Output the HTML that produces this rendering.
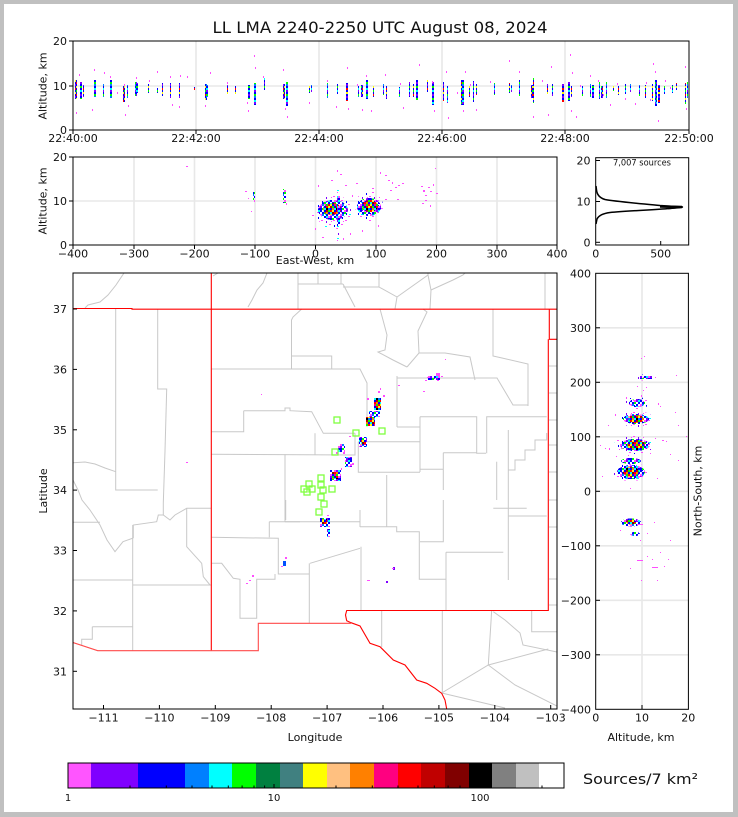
<!DOCTYPE html>
<html><head><meta charset="utf-8"><style>
html,body{margin:0;padding:0;background:#c0c0c0;}
svg{display:block;}
text{font-family:"DejaVu Sans","Liberation Sans",sans-serif;fill:#111;}
.t{font-size:11px;}
.g{stroke:#e8e8e8;stroke-width:1.6;fill:none;}
.k{stroke:#000;stroke-width:1;fill:none;}
.c{stroke:#c8c8c8;stroke-width:1;fill:none;}
.r{stroke:#ff0000;stroke-width:1.1;fill:none;}
.m{fill:#ff4dff;}
.sq{fill:none;stroke:#80ff40;stroke-width:1.3;}
</style></head><body>
<svg width="738" height="817" viewBox="0 0 738 817" xmlns="http://www.w3.org/2000/svg">
<defs>
<pattern id="pT" width="8" height="12" patternUnits="userSpaceOnUse">
<rect width="8" height="12" fill="#0000ff"/>
<rect x="2" y="0" width="2" height="2" fill="#8000ff"/><rect x="6" y="0" width="2" height="2" fill="#0080ff"/>
<rect x="0" y="2" width="2" height="2" fill="#00ff00"/><rect x="4" y="2" width="2" height="2" fill="#ffff00"/>
<rect x="2" y="4" width="2" height="2" fill="#ff0000"/><rect x="6" y="4" width="2" height="2" fill="#00ffff"/>
<rect x="0" y="6" width="2" height="2" fill="#00ffff"/><rect x="4" y="6" width="2" height="2" fill="#00ff00"/><rect x="6" y="6" width="2" height="2" fill="#8000ff"/>
<rect x="2" y="8" width="2" height="2" fill="#ffff00"/>
<rect x="0" y="10" width="2" height="2" fill="#8000ff"/><rect x="4" y="10" width="2" height="2" fill="#ff0000"/><rect x="6" y="10" width="2" height="2" fill="#00ff00"/>
</pattern>
<pattern id="pA" width="10" height="10" patternUnits="userSpaceOnUse">
<rect x="0" y="0" width="2" height="2" fill="#0000ff"/><rect x="4" y="0" width="2" height="2" fill="#ff4dff"/><rect x="6" y="0" width="2" height="2" fill="#8000ff"/><rect x="8" y="0" width="2" height="2" fill="#00ffff"/>
<rect x="2" y="2" width="2" height="2" fill="#0000ff"/><rect x="4" y="2" width="2" height="2" fill="#00ff00"/><rect x="8" y="2" width="2" height="2" fill="#0000ff"/>
<rect x="0" y="4" width="2" height="2" fill="#ff4dff"/><rect x="2" y="4" width="2" height="2" fill="#0080ff"/><rect x="6" y="4" width="2" height="2" fill="#0000ff"/>
<rect x="0" y="6" width="2" height="2" fill="#8000ff"/><rect x="4" y="6" width="2" height="2" fill="#0000ff"/><rect x="6" y="6" width="2" height="2" fill="#00ffff"/><rect x="8" y="6" width="2" height="2" fill="#ff4dff"/>
<rect x="0" y="8" width="2" height="2" fill="#0000ff"/><rect x="2" y="8" width="2" height="2" fill="#00ff00"/><rect x="6" y="8" width="2" height="2" fill="#8000ff"/><rect x="8" y="8" width="2" height="2" fill="#0000ff"/>
</pattern>
<pattern id="pS" width="12" height="12" patternUnits="userSpaceOnUse">
<rect x="0" y="0" width="2" height="1" fill="#ff4dff"/><rect x="6" y="1" width="1" height="2" fill="#0000ff"/>
<rect x="9" y="4" width="2" height="1" fill="#ff4dff"/><rect x="2" y="5" width="1" height="2" fill="#8000ff"/>
<rect x="5" y="8" width="2" height="1" fill="#ff4dff"/><rect x="10" y="9" width="1" height="2" fill="#0000ff"/>
<rect x="1" y="10" width="2" height="1" fill="#00ffff"/><rect x="7" y="5" width="1" height="1" fill="#ff4dff"/>
</pattern>
<pattern id="pB" width="10" height="10" patternUnits="userSpaceOnUse">
<rect x="0" y="0" width="2" height="2" fill="#ff0000"/><rect x="2" y="0" width="2" height="2" fill="#ffff00"/><rect x="4" y="0" width="2" height="2" fill="#0000ff"/><rect x="6" y="0" width="2" height="2" fill="#c00000"/><rect x="8" y="0" width="2" height="2" fill="#00ff00"/>
<rect x="0" y="2" width="2" height="2" fill="#00ffff"/><rect x="2" y="2" width="2" height="2" fill="#800000"/><rect x="4" y="2" width="2" height="2" fill="#ff0000"/><rect x="6" y="2" width="2" height="2" fill="#ff8000"/><rect x="8" y="2" width="2" height="2" fill="#0000ff"/>
<rect x="0" y="4" width="2" height="2" fill="#ffff00"/><rect x="2" y="4" width="2" height="2" fill="#0000ff"/><rect x="4" y="4" width="2" height="2" fill="#ff0080"/><rect x="6" y="4" width="2" height="2" fill="#00ff00"/><rect x="8" y="4" width="2" height="2" fill="#ff0000"/>
<rect x="0" y="6" width="2" height="2" fill="#c00000"/><rect x="2" y="6" width="2" height="2" fill="#00ff00"/><rect x="4" y="6" width="2" height="2" fill="#0000ff"/><rect x="6" y="6" width="2" height="2" fill="#ff0000"/><rect x="8" y="6" width="2" height="2" fill="#ffff00"/>
<rect x="0" y="8" width="2" height="2" fill="#0000ff"/><rect x="2" y="8" width="2" height="2" fill="#ff8000"/><rect x="4" y="8" width="2" height="2" fill="#00ffff"/><rect x="6" y="8" width="2" height="2" fill="#000000"/><rect x="8" y="8" width="2" height="2" fill="#0080ff"/>
</pattern>
<clipPath id="cm"><rect x="73" y="273" width="484" height="436"/></clipPath>
</defs>

<rect x="4" y="4" width="729" height="808" fill="#ffffff"/>

<text x="380" y="33" text-anchor="middle" style="font-size:16px" textLength="335" lengthAdjust="spacingAndGlyphs">LL LMA 2240-2250 UTC August 08, 2024</text>

<!-- ============ TOP TIME PANEL ============ -->
<g>
<line class="g" x1="196" y1="41" x2="196" y2="130"/><line class="g" x1="319" y1="41" x2="319" y2="130"/>
<line class="g" x1="442" y1="41" x2="442" y2="130"/><line class="g" x1="565" y1="41" x2="565" y2="130"/>
<line class="g" x1="73" y1="86" x2="689" y2="86"/>
</g>
<g shape-rendering="crispEdges" fill="url(#pT)">
<rect x="75" y="80" width="2" height="19"/><rect x="80" y="82" width="2" height="17"/><rect x="83" y="85" width="1" height="12"/>
<rect x="94" y="80" width="2" height="17"/><rect x="103" y="84" width="1" height="13"/><rect x="110" y="80" width="2" height="18"/>
<rect x="123" y="86" width="2" height="16"/><rect x="127" y="85" width="1" height="13"/><rect x="135" y="82" width="2" height="14"/>
<rect x="137" y="83" width="1" height="10"/><rect x="148" y="84" width="1" height="9"/><rect x="157" y="88" width="1" height="5"/>
<rect x="162" y="83" width="1" height="13"/><rect x="170" y="83" width="1" height="15"/><rect x="179" y="83" width="1" height="15"/>
<rect x="194" y="87" width="1" height="3"/><rect x="205" y="84" width="2" height="16"/><rect x="207" y="85" width="1" height="12"/>
<rect x="227" y="85" width="1" height="9"/><rect x="235" y="86" width="1" height="8"/><rect x="248" y="85" width="2" height="14"/>
<rect x="254" y="83" width="2" height="22"/><rect x="264" y="78" width="1" height="12"/><rect x="283" y="84" width="2" height="15"/>
<rect x="286" y="82" width="2" height="24"/><rect x="309" y="86" width="1" height="7"/><rect x="311" y="85" width="1" height="7"/>
<rect x="327" y="83" width="1" height="15"/><rect x="337" y="84" width="1" height="10"/><rect x="346" y="83" width="2" height="18"/>
<rect x="358" y="86" width="1" height="11"/><rect x="361" y="85" width="2" height="12"/><rect x="366" y="80" width="2" height="19"/>
<rect x="373" y="86" width="1" height="11"/><rect x="383" y="84" width="1" height="11"/><rect x="386" y="86" width="1" height="13"/>
<rect x="399" y="87" width="1" height="10"/><rect x="409" y="82" width="1" height="15"/><rect x="413" y="84" width="1" height="13"/>
<rect x="416" y="80" width="2" height="20"/><rect x="427" y="80" width="1" height="12"/><rect x="432" y="82" width="2" height="23"/>
<rect x="443" y="82" width="1" height="19"/><rect x="447" y="86" width="1" height="17"/><rect x="461" y="80" width="3" height="25"/>
<rect x="469" y="86" width="1" height="11"/><rect x="473" y="81" width="1" height="21"/><rect x="476" y="84" width="1" height="11"/>
<rect x="494" y="83" width="1" height="12"/><rect x="509" y="83" width="1" height="10"/><rect x="511" y="85" width="1" height="7"/>
<rect x="519" y="80" width="1" height="16"/><rect x="531" y="85" width="2" height="13"/><rect x="533" y="78" width="1" height="25"/>
<rect x="547" y="84" width="1" height="10"/><rect x="552" y="84" width="1" height="12"/><rect x="562" y="84" width="2" height="18"/>
<rect x="568" y="82" width="2" height="19"/><rect x="571" y="86" width="1" height="11"/><rect x="582" y="86" width="1" height="10"/>
<rect x="590" y="84" width="1" height="13"/><rect x="592" y="85" width="2" height="13"/><rect x="599" y="82" width="1" height="17"/>
<rect x="601" y="86" width="2" height="12"/><rect x="606" y="82" width="1" height="16"/><rect x="613" y="86" width="1" height="5"/>
<rect x="618" y="86" width="1" height="9"/><rect x="625" y="84" width="1" height="10"/><rect x="630" y="84" width="1" height="8"/>
<rect x="639" y="85" width="1" height="11"/><rect x="645" y="85" width="1" height="13"/><rect x="652" y="84" width="1" height="17"/>
<rect x="655" y="80" width="2" height="26"/><rect x="658" y="85" width="2" height="18"/><rect x="664" y="86" width="1" height="8"/>
<rect x="672" y="85" width="1" height="8"/><rect x="676" y="83" width="1" height="7"/><rect x="685" y="83" width="1" height="21"/>
<rect x="687" y="82" width="1" height="16"/>
</g>
<g shape-rendering="crispEdges" class="m">
<rect x="79" y="74" width="1" height="2"/><rect x="76" y="112" width="1" height="2"/><rect x="92" y="109" width="1" height="2"/><rect x="94" y="69" width="1" height="2"/><rect x="104" y="72" width="1" height="2"/><rect x="110" y="76" width="1" height="2"/><rect x="117" y="92" width="1" height="2"/><rect x="124" y="84" width="1" height="2"/><rect x="125" y="114" width="1" height="2"/><rect x="128" y="105" width="1" height="2"/><rect x="136" y="77" width="1" height="2"/><rect x="149" y="80" width="1" height="2"/><rect x="157" y="71" width="1" height="2"/><rect x="170" y="76" width="1" height="2"/><rect x="172" y="104" width="1" height="2"/><rect x="180" y="75" width="1" height="2"/><rect x="179" y="106" width="1" height="2"/><rect x="187" y="76" width="1" height="2"/><rect x="205" y="105" width="1" height="2"/><rect x="210" y="72" width="1" height="2"/><rect x="227" y="82" width="1" height="2"/><rect x="247" y="102" width="1" height="2"/><rect x="248" y="110" width="1" height="2"/><rect x="254" y="55" width="1" height="2"/><rect x="255" y="67" width="1" height="2"/><rect x="263" y="76" width="1" height="2"/><rect x="283" y="69" width="1" height="2"/><rect x="285" y="108" width="1" height="2"/><rect x="287" y="116" width="1" height="2"/><rect x="309" y="102" width="1" height="2"/><rect x="327" y="80" width="1" height="2"/><rect x="336" y="106" width="1" height="2"/><rect x="347" y="67" width="1" height="2"/><rect x="348" y="108" width="1" height="2"/><rect x="357" y="84" width="1" height="2"/><rect x="362" y="109" width="1" height="2"/><rect x="366" y="75" width="1" height="2"/><rect x="371" y="110" width="1" height="2"/><rect x="385" y="74" width="1" height="2"/><rect x="400" y="83" width="1" height="2"/><rect x="403" y="107" width="1" height="2"/><rect x="419" y="64" width="1" height="2"/><rect x="432" y="81" width="1" height="2"/><rect x="434" y="110" width="1" height="2"/><rect x="446" y="71" width="1" height="2"/><rect x="448" y="117" width="1" height="2"/><rect x="457" y="92" width="1" height="2"/><rect x="465" y="71" width="1" height="2"/><rect x="463" y="110" width="1" height="2"/><rect x="470" y="84" width="1" height="2"/><rect x="476" y="109" width="1" height="2"/><rect x="490" y="81" width="1" height="2"/><rect x="509" y="60" width="1" height="2"/><rect x="519" y="71" width="1" height="2"/><rect x="533" y="116" width="1" height="2"/><rect x="542" y="80" width="1" height="2"/><rect x="548" y="114" width="1" height="2"/><rect x="551" y="66" width="1" height="2"/><rect x="570" y="54" width="1" height="2"/><rect x="572" y="72" width="1" height="2"/><rect x="571" y="110" width="1" height="2"/><rect x="576" y="116" width="1" height="2"/><rect x="580" y="85" width="1" height="2"/><rect x="590" y="75" width="1" height="2"/><rect x="598" y="80" width="1" height="2"/><rect x="603" y="94" width="1" height="2"/><rect x="610" y="104" width="1" height="2"/><rect x="617" y="83" width="1" height="2"/><rect x="625" y="98" width="1" height="2"/><rect x="635" y="103" width="1" height="2"/><rect x="646" y="82" width="1" height="2"/><rect x="650" y="99" width="1" height="2"/><rect x="653" y="63" width="1" height="2"/><rect x="655" y="71" width="1" height="2"/><rect x="658" y="120" width="1" height="2"/><rect x="665" y="80" width="1" height="2"/><rect x="670" y="87" width="1" height="2"/><rect x="685" y="66" width="1" height="2"/><rect x="686" y="108" width="1" height="2"/>
</g>
<rect x="73" y="41" width="616" height="89" class="k" stroke-width="1.3"/>
<g class="k">
<line x1="69" y1="41" x2="73" y2="41"/><line x1="69" y1="86" x2="73" y2="86"/><line x1="69" y1="130" x2="73" y2="130"/>
<line x1="73" y1="130" x2="73" y2="134"/><line x1="196" y1="130" x2="196" y2="134"/><line x1="319" y1="130" x2="319" y2="134"/>
<line x1="442" y1="130" x2="442" y2="134"/><line x1="565" y1="130" x2="565" y2="134"/><line x1="689" y1="130" x2="689" y2="134"/>
</g>
<g class="t">
<text x="67" y="45" text-anchor="end">20</text><text x="67" y="90" text-anchor="end">10</text><text x="67" y="134" text-anchor="end">0</text>
<text x="73" y="142" text-anchor="middle">22:40:00</text><text x="196" y="142" text-anchor="middle">22:42:00</text>
<text x="319" y="142" text-anchor="middle">22:44:00</text><text x="442" y="142" text-anchor="middle">22:46:00</text>
<text x="565" y="142" text-anchor="middle">22:48:00</text><text x="689" y="142" text-anchor="middle">22:50:00</text>
<text transform="translate(46.5,86) rotate(-90)" text-anchor="middle">Altitude, km</text>
</g>

<!-- ============ EAST-WEST PANEL ============ -->
<g>
<line class="g" x1="134" y1="157" x2="134" y2="245"/><line class="g" x1="194.5" y1="157" x2="194.5" y2="245"/>
<line class="g" x1="255" y1="157" x2="255" y2="245"/><line class="g" x1="315.5" y1="157" x2="315.5" y2="245"/>
<line class="g" x1="376" y1="157" x2="376" y2="245"/><line class="g" x1="436.5" y1="157" x2="436.5" y2="245"/>
<line class="g" x1="497" y1="157" x2="497" y2="245"/><line class="g" x1="73" y1="201" x2="557" y2="201"/>
</g>
<g shape-rendering="crispEdges">
<ellipse cx="334" cy="212" rx="18" ry="17" fill="url(#pS)"/>
<ellipse cx="333" cy="210" rx="15" ry="10" fill="url(#pA)"/>
<ellipse cx="332" cy="209" rx="9" ry="6" fill="url(#pB)"/>
<rect x="337" y="188" width="4" height="54" fill="url(#pS)"/>
<rect x="337" y="196" width="3" height="30" fill="url(#pA)"/>
<ellipse cx="369" cy="206" rx="14" ry="15" fill="url(#pS)"/>
<ellipse cx="369" cy="207" rx="12" ry="9" fill="url(#pA)"/>
<ellipse cx="370" cy="206" rx="8" ry="6" fill="url(#pB)"/>
<rect x="283" y="189" width="3" height="14" fill="url(#pA)"/>
<rect x="253" y="192" width="2" height="10" fill="url(#pA)"/>
</g>
<g shape-rendering="crispEdges" class="m">
<rect x="186" y="166" width="2" height="1"/><rect x="245" y="191" width="2" height="1"/><rect x="248" y="198" width="1" height="1"/><rect x="251" y="211" width="1" height="1"/><rect x="286" y="203" width="1" height="2"/><rect x="318" y="185" width="1" height="2"/><rect x="322" y="237" width="2" height="1"/><rect x="331" y="180" width="2" height="1"/><rect x="337" y="170" width="1" height="2"/><rect x="340" y="174" width="2" height="1"/><rect x="343" y="238" width="1" height="2"/><rect x="350" y="233" width="1" height="2"/><rect x="356" y="183" width="2" height="1"/><rect x="362" y="230" width="1" height="2"/><rect x="380" y="172" width="1" height="2"/><rect x="385" y="175" width="2" height="1"/><rect x="388" y="180" width="2" height="1"/><rect x="392" y="182" width="1" height="2"/><rect x="395" y="187" width="2" height="1"/><rect x="390" y="190" width="2" height="1"/><rect x="398" y="185" width="2" height="1"/><rect x="397" y="199" width="2" height="1"/><rect x="385" y="199" width="2" height="1"/><rect x="402" y="183" width="2" height="1"/><rect x="421" y="186" width="2" height="1"/><rect x="423" y="190" width="2" height="2"/><rect x="425" y="195" width="2" height="1"/><rect x="428" y="187" width="2" height="1"/><rect x="430" y="191" width="2" height="1"/><rect x="433" y="184" width="1" height="2"/><rect x="425" y="200" width="2" height="1"/><rect x="430" y="205" width="1" height="2"/><rect x="436" y="193" width="2" height="1"/><rect x="435" y="168" width="1" height="1"/><rect x="422" y="203" width="2" height="1"/><rect x="315" y="228" width="1" height="2"/><rect x="312" y="215" width="2" height="1"/><rect x="345" y="185" width="2" height="1"/><rect x="352" y="195" width="1" height="2"/><rect x="372" y="188" width="2" height="1"/><rect x="378" y="225" width="1" height="2"/>
</g>
<rect x="73" y="157" width="484" height="88" class="k" stroke-width="1.3"/>
<g class="k">
<line x1="69" y1="157" x2="73" y2="157"/><line x1="69" y1="201" x2="73" y2="201"/><line x1="69" y1="245" x2="73" y2="245"/>
<line x1="73" y1="245" x2="73" y2="249"/><line x1="134" y1="245" x2="134" y2="249"/><line x1="194.5" y1="245" x2="194.5" y2="249"/>
<line x1="255" y1="245" x2="255" y2="249"/><line x1="315.5" y1="245" x2="315.5" y2="249"/><line x1="376" y1="245" x2="376" y2="249"/>
<line x1="436.5" y1="245" x2="436.5" y2="249"/><line x1="497" y1="245" x2="497" y2="249"/><line x1="557" y1="245" x2="557" y2="249"/>
</g>
<g class="t">
<text x="67" y="161" text-anchor="end">20</text><text x="67" y="205" text-anchor="end">10</text><text x="67" y="249" text-anchor="end">0</text>
<text x="73" y="257.5" text-anchor="middle">&#8722;400</text><text x="134" y="257.5" text-anchor="middle">&#8722;300</text>
<text x="194.5" y="257.5" text-anchor="middle">&#8722;200</text><text x="255" y="257.5" text-anchor="middle">&#8722;100</text>
<text x="315.5" y="257.5" text-anchor="middle">0</text><text x="376" y="257.5" text-anchor="middle">100</text>
<text x="436.5" y="257.5" text-anchor="middle">200</text><text x="497" y="257.5" text-anchor="middle">300</text>
<text x="557" y="257.5" text-anchor="middle">400</text>
<text x="315" y="264" text-anchor="middle">East-West, km</text>
<text transform="translate(46.5,201) rotate(-90)" text-anchor="middle">Altitude, km</text>
</g>

<!-- ============ HISTOGRAM PANEL ============ -->
<path d="M596,186 L596.5,190 C597,195 600,198 605,199.5 C615,201.5 640,203.5 660,205.5 L683,207 L670,208.5 C650,210 625,211 610,212.5 C602,213.5 598.5,216 597,219 L596,224" fill="none" stroke="#000" stroke-width="1.5"/>
<path d="M660,206.5 L682,207 L668,208" fill="none" stroke="#000" stroke-width="2.5"/>
<rect x="595.7" y="157.7" width="93" height="87.3" class="k" stroke-width="1.3"/>
<g class="k">
<line x1="595.7" y1="160.5" x2="600" y2="160.5"/><line x1="595.7" y1="201.5" x2="600" y2="201.5"/><line x1="595.7" y1="242.3" x2="600" y2="242.3"/>
<line x1="660.7" y1="245" x2="660.7" y2="241"/>
</g>
<g class="t">
<text x="590.5" y="164.5" text-anchor="end">20</text><text x="590.5" y="205.5" text-anchor="end">10</text><text x="590.5" y="246.3" text-anchor="end">0</text>
<text x="595.7" y="257.5" text-anchor="middle">0</text><text x="660.7" y="257.5" text-anchor="middle">500</text>
</g>
<text x="642" y="165.5" text-anchor="middle" style="font-size:8.5px" textLength="58" lengthAdjust="spacingAndGlyphs">7,007 sources</text>

<!-- ============ MAP PANEL ============ -->
<g clip-path="url(#cm)">
<g class="c">
<polyline points="124,273 120,279 116,285 108,295 100,302 88,305 85,308"/>
<polyline points="213,276 218,273"/>
<polyline points="267,273 263,283 257,290 252,300 248,307"/>
<polyline points="298,273 298,309"/>
<polyline points="298,284 343,284"/>
<polyline points="318,273 318,284"/><polyline points="341,273 341,284"/>
<polyline points="343,284 355,307"/>
<polyline points="343,287 379,287 379,273"/>
<polyline points="379,287 397,297 395,309"/>
<polyline points="397,297 428,275 428,273"/>
<polyline points="428,275 431,290 430,309"/>
<polyline points="431,290 453,280 463,275 465,273"/>
<polyline points="545,273 545,309"/>
<polyline points="301.7,309 293,317 291.5,320 291.5,369"/>
<polyline points="211,369 360,369 367,383 367,427"/>
<polyline points="291.5,356 331.7,356 331.7,369"/>
<polyline points="380,309 383,320 387,335 385,350 378,352 393,360 407,367"/>
<polyline points="423,309 427,312 418,331 419,353"/>
<polyline points="407,367 419,353 445,353 470,357 475,380"/>
<polyline points="493,309 493,356 502,358 528,364 528,406"/>
<polyline points="397,378 497,378 513,405 528,405"/>
<polyline points="397,376 397,427"/>
<polyline points="243.7,410.7 285,410.7 285,408 290,408 290,410.7 311.7,411.7 323.3,433.3 355,433.3"/>
<polyline points="211,431.7 243.7,431.7 243.7,410.7"/>
<polyline points="211,454.3 355,455 355,433.3"/>
<polyline points="315,433.3 315,455"/>
<polyline points="285,454.3 285,522"/>
<polyline points="285,521.7 360,521.7"/><polyline points="360,510 360,527"/>
<polyline points="358.3,441.7 358.3,472.3 420,472.3"/>
<polyline points="358.3,441.7 420,441.7"/>
<polyline points="397,427 420,427"/>
<polyline points="420,416.7 420,472"/>
<polyline points="420,416.7 476.7,416.7 476.7,453.3 486,453.3"/>
<polyline points="443.3,452.7 476.7,452.7"/>
<polyline points="443.3,452.7 443.3,490"/>
<polyline points="420,469.3 443.3,469.3"/>
<polyline points="486.7,453.3 486.7,416.7 546.7,416.7"/>
<polyline points="496.7,461.7 496.7,500"/>
<polyline points="508.3,430 508.3,580"/>
<polyline points="508,470 515,470 515,460 525,460 525,450 535,450 535,440 546.7,440 546.7,433"/>
<polyline points="493.3,508.3 526.7,508.3"/>
<polyline points="508,516 546.7,516"/>
<polyline points="386.7,475 386.7,527"/>
<polyline points="360,526.7 396.7,526.7 396.7,531.7 419.3,531.7 419.3,579.3 446,579.3"/>
<polyline points="420,541.7 443.3,541.7 443.3,500"/>
<polyline points="446,552.3 446,610"/><polyline points="446,552.3 503.3,552.3"/>
<polyline points="360,548.3 310,563.3"/>
<polyline points="309.3,563.3 309.3,623.3"/>
<polyline points="361,546.7 361,610"/>
<polyline points="211.7,537.3 278.3,538.3 278.3,574 309.3,574"/>
<polyline points="269.3,521.7 300,521.7"/><polyline points="269.3,521.7 269.3,537.3"/>
<polyline points="211.7,563.3 221.7,563.3 233.3,578.3 240,579.3 240,618.3 256.7,618.3 256.7,579.3 275,579.3 275,574"/>
<polyline points="285.7,500 285.7,520"/>
<polyline points="381.7,611 381.7,647"/>
<polyline points="442.3,611 442.3,692.7"/>
<polyline points="491.7,610 488.3,665"/>
<polyline points="441.7,693 488.3,665 548.3,649"/>
<polyline points="488.3,665 515,685 557,706"/>
<polyline points="441.7,693 505,708"/>
<polyline points="493.3,611.7 505,620 520,633 523,645 557,652"/>
<polyline points="531.7,610 531.7,631.7 557,631.7"/>
<polyline points="549,366 557,366"/><polyline points="549,393 557,393"/><polyline points="549,420 557,420"/>
<polyline points="549,445 557,445"/><polyline points="549,472 557,472"/><polyline points="549,500 557,500"/>
<polyline points="549,527 557,527"/><polyline points="549,579 557,579"/><polyline points="549,605 557,605"/>
<polyline points="115.7,309 115.7,490 157.7,490"/>
<polyline points="157.7,309 157.7,389 166.7,389 165,451 163.3,503 163.3,515"/>
<polyline points="73,462.7 85,462 95,464 105,468 115.7,471.7"/>
<polyline points="73,480 78,490 82,500 90,510 100,525 107,540 115,551.7 123,541.7 133.3,538"/>
<polyline points="73,522.3 100,522.3"/>
<polyline points="133.3,538 133.3,525 156.7,521.7 158.3,515 163.3,515 170,520 175,515 186.7,508.3 211,508.3"/>
<polyline points="186.7,508.3 186.7,546.7 201.7,563.3 203.3,576.7 210,585"/>
<polyline points="132.7,525 132.7,651"/>
<polyline points="73,580 132.7,580"/>
<polyline points="132.7,585 211,585"/>
<polyline points="92.3,626.7 132.7,626.7"/>
<polyline points="92.3,626.7 92.3,639.3 81.7,639.3 81.7,645"/>
</g>
<g class="r">
<polyline points="73,308.5 132,308.5 132,309.2 549,309.2 557,309.2"/>
<polyline points="211.3,273 211.3,650.7"/>
<polyline points="549.3,309 549.3,339.3 557,339.3"/>
<polyline points="548.3,339.3 548.3,610.5 346.7,610.5 345.5,615 346.7,620.7 351,622.7 360,626 370,643.3 380,646.7 393.3,660 405,665 416.7,680 426.7,683.3 435,688.3 441.7,693.3 445,700 446.7,709"/>
</g>
<g stroke="#ff4a4a" stroke-width="1.1" fill="none">
<polyline points="351,623.3 258.3,623.3 258.3,650.7 97.7,650.7 73,642.5"/>
</g>
<g shape-rendering="crispEdges">
<rect x="374" y="398" width="7" height="12" fill="url(#pB)"/>
<rect x="369" y="411" width="11" height="6" fill="url(#pA)"/>
<rect x="366" y="417" width="9" height="9" fill="url(#pB)"/>
<rect x="359" y="437" width="8" height="10" fill="url(#pA)"/>
<rect x="361" y="440" width="5" height="5" fill="url(#pB)"/>
<rect x="338" y="444" width="7" height="8" fill="url(#pA)"/>
<rect x="345" y="457" width="7" height="10" fill="url(#pA)"/>
<rect x="330" y="470" width="11" height="11" fill="url(#pA)"/>
<rect x="332" y="472" width="6" height="7" fill="url(#pB)"/>
<rect x="320" y="518" width="10" height="9" fill="url(#pA)"/>
<rect x="322" y="519" width="5" height="5" fill="url(#pB)"/>
<rect x="327" y="529" width="3" height="8" fill="url(#pA)"/>
<rect x="425" y="375" width="18" height="6" fill="url(#pS)"/>
<rect x="428" y="376" width="12" height="4" fill="url(#pA)"/>
<rect x="283" y="561" width="3" height="5" fill="#0050ff"/>
<rect x="393" y="567" width="2" height="3" fill="#8000ff"/>
<rect x="386" y="581" width="2" height="2" fill="#8000ff"/>
</g>
<g shape-rendering="crispEdges" class="m">
<rect x="367" y="398" width="2" height="2"/><rect x="383" y="395" width="2" height="2"/><rect x="380" y="388" width="1" height="2"/><rect x="378" y="391" width="2" height="2"/>
<rect x="436" y="373" width="4" height="3"/>
<rect x="445" y="359" width="1" height="1"/><rect x="423" y="391" width="2" height="1"/><rect x="398" y="385" width="2" height="1"/>
<rect x="349" y="436" width="2" height="1"/><rect x="343" y="452" width="2" height="2"/><rect x="336" y="452" width="2" height="2"/>
<rect x="352" y="463" width="2" height="2"/><rect x="341" y="468" width="1" height="2"/><rect x="327" y="515" width="2" height="1"/>
<rect x="285" y="557" width="2" height="2"/><rect x="281" y="566" width="2" height="1"/>
<rect x="252" y="575" width="2" height="2"/><rect x="249" y="580" width="2" height="1"/><rect x="246" y="583" width="2" height="1"/>
<rect x="367" y="580" width="3" height="1"/><rect x="392" y="568" width="2" height="1"/>
<rect x="186" y="462" width="2" height="1"/><rect x="261" y="394" width="1" height="1"/>
</g>
<g class="sq">
<rect x="334" y="417" width="6" height="6"/><rect x="353" y="430" width="6" height="6"/><rect x="379" y="428" width="6" height="6"/>
<rect x="332" y="449" width="6" height="6"/><rect x="306" y="481" width="6" height="6"/><rect x="318" y="475" width="6" height="6"/>
<rect x="318" y="482" width="6" height="6"/><rect x="301" y="486" width="6" height="6"/><rect x="304" y="489" width="6" height="6"/>
<rect x="309" y="486" width="6" height="6"/><rect x="320" y="487" width="6" height="6"/><rect x="329" y="486" width="6" height="6"/>
<rect x="318" y="494" width="6" height="6"/><rect x="321" y="501" width="6" height="6"/><rect x="316" y="509" width="6" height="6"/>
</g>
</g>
<rect x="73" y="273" width="484" height="436" class="k" stroke-width="1.3"/>
<g class="k">
<line x1="73" y1="309" x2="77" y2="309"/><line x1="73" y1="369.4" x2="77" y2="369.4"/><line x1="73" y1="429.8" x2="77" y2="429.8"/>
<line x1="73" y1="490.1" x2="77" y2="490.1"/><line x1="73" y1="550.5" x2="77" y2="550.5"/><line x1="73" y1="610.9" x2="77" y2="610.9"/>
<line x1="73" y1="671.3" x2="77" y2="671.3"/>
<line x1="103.5" y1="709" x2="103.5" y2="705"/><line x1="159.4" y1="709" x2="159.4" y2="705"/><line x1="215.3" y1="709" x2="215.3" y2="705"/>
<line x1="271.2" y1="709" x2="271.2" y2="705"/><line x1="327.1" y1="709" x2="327.1" y2="705"/><line x1="383" y1="709" x2="383" y2="705"/>
<line x1="438.9" y1="709" x2="438.9" y2="705"/><line x1="494.8" y1="709" x2="494.8" y2="705"/><line x1="550.7" y1="709" x2="550.7" y2="705"/>
</g>
<g class="t">
<text x="67" y="313" text-anchor="end">37</text><text x="67" y="373.4" text-anchor="end">36</text><text x="67" y="433.8" text-anchor="end">35</text>
<text x="67" y="494.1" text-anchor="end">34</text><text x="67" y="554.5" text-anchor="end">33</text><text x="67" y="614.9" text-anchor="end">32</text>
<text x="67" y="675.3" text-anchor="end">31</text>
<text x="103.5" y="721.5" text-anchor="middle">&#8722;111</text><text x="159.4" y="721.5" text-anchor="middle">&#8722;110</text>
<text x="215.3" y="721.5" text-anchor="middle">&#8722;109</text><text x="271.2" y="721.5" text-anchor="middle">&#8722;108</text>
<text x="327.1" y="721.5" text-anchor="middle">&#8722;107</text><text x="383" y="721.5" text-anchor="middle">&#8722;106</text>
<text x="438.9" y="721.5" text-anchor="middle">&#8722;105</text><text x="494.8" y="721.5" text-anchor="middle">&#8722;104</text>
<text x="550.7" y="721.5" text-anchor="middle">&#8722;103</text>
<text x="315" y="741" text-anchor="middle">Longitude</text>
<text transform="translate(47,491) rotate(-90)" text-anchor="middle">Latitude</text>
</g>

<!-- ============ NORTH-SOUTH PANEL ============ -->
<g>
<line class="g" x1="642" y1="273.3" x2="642" y2="709.3"/>
<line class="g" x1="595.7" y1="327.8" x2="688.4" y2="327.8"/><line class="g" x1="595.7" y1="382.3" x2="688.4" y2="382.3"/>
<line class="g" x1="595.7" y1="436.8" x2="688.4" y2="436.8"/><line class="g" x1="595.7" y1="491.3" x2="688.4" y2="491.3"/>
<line class="g" x1="595.7" y1="545.8" x2="688.4" y2="545.8"/><line class="g" x1="595.7" y1="600.3" x2="688.4" y2="600.3"/>
<line class="g" x1="595.7" y1="654.8" x2="688.4" y2="654.8"/>
</g>
<g shape-rendering="crispEdges">
<ellipse cx="646" cy="377.5" rx="11" ry="3" fill="url(#pS)"/>
<rect x="640" y="376" width="12" height="3" fill="url(#pA)"/>
<ellipse cx="637" cy="403" rx="12" ry="6" fill="url(#pS)"/>
<ellipse cx="637" cy="403" rx="8" ry="4" fill="url(#pA)"/>
<ellipse cx="636" cy="419" rx="17" ry="8" fill="url(#pS)"/>
<ellipse cx="636" cy="419" rx="13" ry="5" fill="url(#pA)"/>
<ellipse cx="636" cy="419" rx="8" ry="4" fill="url(#pB)"/>
<ellipse cx="634" cy="445" rx="20" ry="9" fill="url(#pS)"/>
<ellipse cx="635" cy="445" rx="15" ry="6" fill="url(#pA)"/>
<ellipse cx="636" cy="445" rx="9" ry="5" fill="url(#pB)"/>
<ellipse cx="631" cy="461" rx="10" ry="3" fill="url(#pA)"/>
<ellipse cx="631" cy="472" rx="18" ry="9" fill="url(#pS)"/>
<ellipse cx="631" cy="472" rx="14" ry="7" fill="url(#pA)"/>
<ellipse cx="631" cy="472" rx="8" ry="5" fill="url(#pB)"/>
<ellipse cx="631" cy="522.5" rx="10" ry="4" fill="url(#pA)"/>
<ellipse cx="631" cy="522" rx="5" ry="2.5" fill="url(#pB)"/>
<ellipse cx="635" cy="534" rx="5" ry="2" fill="url(#pA)"/>
</g>
<g shape-rendering="crispEdges" class="m">
<rect x="615" y="414" width="1" height="2"/><rect x="608" y="425" width="1" height="1"/><rect x="626" y="397" width="1" height="2"/><rect x="641" y="395" width="1" height="2"/><rect x="658" y="403" width="1" height="2"/><rect x="660" y="406" width="1" height="1"/><rect x="609" y="448" width="1" height="2"/><rect x="662" y="440" width="2" height="1"/><rect x="666" y="441" width="1" height="1"/><rect x="605" y="448" width="1" height="1"/><rect x="600" y="445" width="1" height="1"/><rect x="616" y="456" width="1" height="1"/><rect x="628" y="455" width="1" height="1"/><rect x="650" y="453" width="1" height="1"/><rect x="655" y="438" width="1" height="1"/><rect x="602" y="476" width="1" height="1"/><rect x="657" y="478" width="1" height="1"/><rect x="670" y="454" width="1" height="1"/><rect x="630" y="488" width="1" height="1"/><rect x="643" y="390" width="1" height="1"/><rect x="646" y="387" width="1" height="1"/><rect x="641" y="358" width="1" height="1"/><rect x="676" y="375" width="1" height="1"/><rect x="675" y="412" width="1" height="1"/><rect x="678" y="425" width="1" height="1"/><rect x="686" y="436" width="1" height="1"/><rect x="678" y="460" width="1" height="1"/><rect x="637" y="520" width="1" height="1"/><rect x="654" y="522" width="1" height="1"/><rect x="647" y="533" width="1" height="1"/><rect x="640" y="540" width="1" height="1"/><rect x="647" y="556" width="1" height="1"/><rect x="652" y="559" width="1" height="1"/><rect x="660" y="552" width="1" height="1"/><rect x="664" y="566" width="1" height="1"/><rect x="668" y="559" width="1" height="1"/><rect x="670" y="540" width="1" height="1"/><rect x="641" y="580" width="1" height="1"/><rect x="657" y="580" width="1" height="1"/><rect x="630" y="568" width="1" height="1"/><rect x="620" y="530" width="1" height="1"/><rect x="637" y="386" width="1" height="1"/><rect x="644" y="356" width="1" height="1"/>
<rect x="637" y="560" width="6" height="1"/><rect x="652" y="567" width="6" height="1"/><rect x="637" y="524" width="6" height="1"/>
</g>
<rect x="595.7" y="273.3" width="92.7" height="436" class="k" stroke-width="1.3"/>
<g class="k">
<line x1="595.7" y1="327.8" x2="600" y2="327.8"/><line x1="595.7" y1="382.3" x2="600" y2="382.3"/><line x1="595.7" y1="436.8" x2="600" y2="436.8"/>
<line x1="595.7" y1="491.3" x2="600" y2="491.3"/><line x1="595.7" y1="545.8" x2="600" y2="545.8"/><line x1="595.7" y1="600.3" x2="600" y2="600.3"/>
<line x1="595.7" y1="654.8" x2="600" y2="654.8"/>
<line x1="642" y1="709.3" x2="642" y2="705"/>
</g>
<g class="t">
<text x="591" y="277.3" text-anchor="end">400</text><text x="591" y="331.8" text-anchor="end">300</text>
<text x="591" y="386.3" text-anchor="end">200</text><text x="591" y="440.8" text-anchor="end">100</text>
<text x="591" y="495.3" text-anchor="end">0</text><text x="591" y="549.8" text-anchor="end">&#8722;100</text>
<text x="591" y="604.3" text-anchor="end">&#8722;200</text><text x="591" y="658.8" text-anchor="end">&#8722;300</text>
<text x="591" y="713.3" text-anchor="end">&#8722;400</text>
<text x="595.7" y="721.5" text-anchor="middle">0</text><text x="642" y="721.5" text-anchor="middle">10</text>
<text x="688.3" y="721.5" text-anchor="middle">20</text>
<text x="641" y="741" text-anchor="middle">Altitude, km</text>
<text transform="translate(701.5,491) rotate(-90)" text-anchor="middle">North-South, km</text>
</g>

<!-- ============ COLORBAR ============ -->
<g shape-rendering="crispEdges">
<rect x="68" y="763" width="23" height="25" fill="#ff55ff"/>
<rect x="91" y="763" width="47" height="25" fill="#8000ff"/>
<rect x="138" y="763" width="47" height="25" fill="#0000ff"/>
<rect x="185" y="763" width="24" height="25" fill="#0080ff"/>
<rect x="209" y="763" width="23" height="25" fill="#00ffff"/>
<rect x="232" y="763" width="24" height="25" fill="#00ff00"/>
<rect x="256" y="763" width="24" height="25" fill="#008040"/>
<rect x="280" y="763" width="23" height="25" fill="#408080"/>
<rect x="303" y="763" width="24" height="25" fill="#ffff00"/>
<rect x="327" y="763" width="23" height="25" fill="#ffc080"/>
<rect x="350" y="763" width="24" height="25" fill="#ff8000"/>
<rect x="374" y="763" width="24" height="25" fill="#ff0080"/>
<rect x="398" y="763" width="23" height="25" fill="#ff0000"/>
<rect x="421" y="763" width="24" height="25" fill="#c00000"/>
<rect x="445" y="763" width="24" height="25" fill="#800000"/>
<rect x="469" y="763" width="23" height="25" fill="#000000"/>
<rect x="492" y="763" width="24" height="25" fill="#808080"/>
<rect x="516" y="763" width="23" height="25" fill="#c0c0c0"/>
<rect x="539" y="763" width="25" height="25" fill="#ffffff"/>
</g>
<rect x="68" y="763" width="496" height="25" class="k" stroke-width="1.2"/>
<g class="k">
<line x1="130" y1="788" x2="130" y2="785.5"/><line x1="166.3" y1="788" x2="166.3" y2="785.5"/><line x1="192" y1="788" x2="192" y2="785.5"/>
<line x1="212" y1="788" x2="212" y2="785.5"/><line x1="228.3" y1="788" x2="228.3" y2="785.5"/><line x1="242.1" y1="788" x2="242.1" y2="785.5"/>
<line x1="254" y1="788" x2="254" y2="785.5"/><line x1="264.6" y1="788" x2="264.6" y2="785.5"/><line x1="274" y1="788" x2="274" y2="784"/>
<line x1="336" y1="788" x2="336" y2="785.5"/><line x1="372.3" y1="788" x2="372.3" y2="785.5"/><line x1="398" y1="788" x2="398" y2="785.5"/>
<line x1="418" y1="788" x2="418" y2="785.5"/><line x1="434.3" y1="788" x2="434.3" y2="785.5"/><line x1="448.1" y1="788" x2="448.1" y2="785.5"/>
<line x1="460" y1="788" x2="460" y2="785.5"/><line x1="470.6" y1="788" x2="470.6" y2="785.5"/><line x1="480" y1="788" x2="480" y2="784"/>
<line x1="542" y1="788" x2="542" y2="785.5"/>
</g>
<g style="font-size:10px">
<text x="68" y="801" text-anchor="middle">1</text>
<text x="274" y="801" text-anchor="middle">10</text>
<text x="480" y="801" text-anchor="middle">100</text>
</g>
<text x="583" y="784" style="font-size:14.5px" textLength="115" lengthAdjust="spacingAndGlyphs">Sources/7 km²</text>
</svg>
</body></html>
